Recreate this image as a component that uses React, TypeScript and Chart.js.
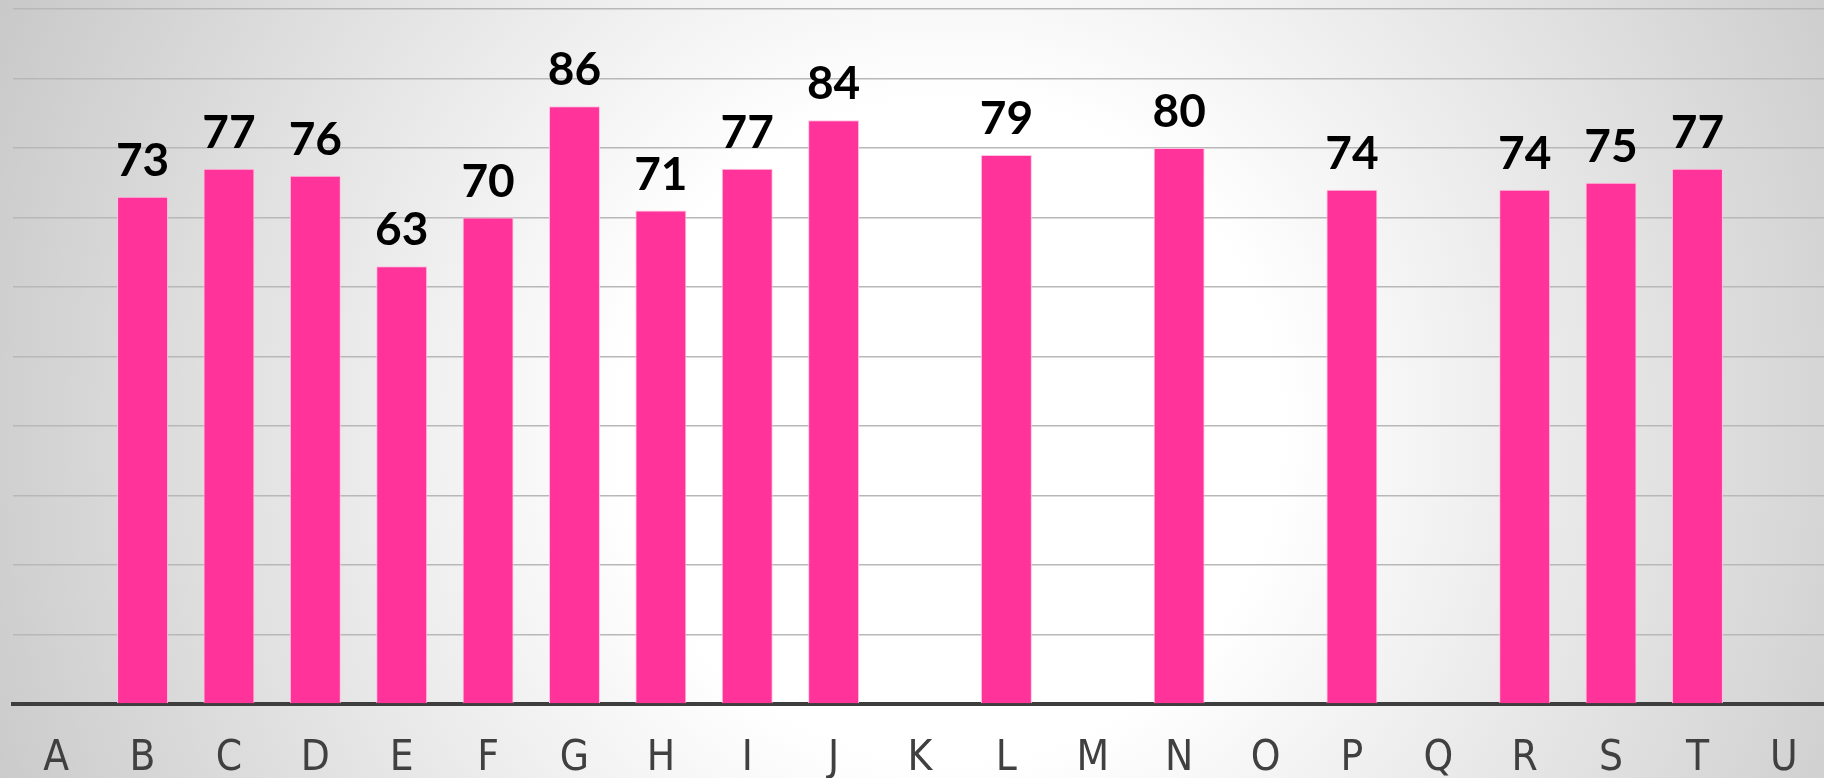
import React, { useEffect, useRef } from "react";
import { Chart, registerables } from "chart.js";

Chart.register(...registerables);

const categories = ["A","B","C","D","E","F","G","H","I","J","K","L","M","N","O","P","Q","R","S","T","U"];
const values: (number | null)[] = [null,73,77,76,63,70,86,71,77,84,null,79,null,80,null,74,null,74,75,77,null];
const yMin = 0;
const yMax = 100;
const yStep = 10;

const W = 1828;
const H = 778;

const valueLabels = {
  id: "valueLabels",
  afterDatasetsDraw(chart: any) {
    const ctx = chart.ctx;
    const meta = chart.getDatasetMeta(0);
    ctx.save();
    ctx.font = "bold 46px Lato, 'Open Sans', sans-serif";
    ctx.fillStyle = "#000000";
    ctx.textAlign = "center";
    ctx.textBaseline = "alphabetic";
    meta.data.forEach((bar: any, i: number) => {
      const v = values[i];
      if (v === null || v === undefined) return;
      ctx.fillText(String(v), bar.x, bar.y - 21);
    });
    ctx.restore();
  },
};

const categoryLabels = {
  id: "categoryLabels",
  afterDraw(chart: any) {
    const ctx = chart.ctx;
    const xs = chart.scales.x;
    ctx.save();
    ctx.font = "42px 'DejaVu Sans Condensed', 'DejaVu Sans', sans-serif";
    ctx.fillStyle = "#404040";
    ctx.textAlign = "center";
    ctx.textBaseline = "alphabetic";
    categories.forEach((c, i) => {
      ctx.fillText(c, xs.getPixelForTick(i), chart.chartArea.bottom + 66);
    });
    ctx.restore();
  },
};

export default function App() {
  const ref = useRef<HTMLCanvasElement>(null);
  useEffect(() => {
    document.body.style.margin = "0";
    const chart = new Chart(ref.current!, {
      type: "bar",
      data: {
        labels: categories,
        datasets: [
          {
            data: values,
            backgroundColor: "#FF3399",
            borderColor: "#ffc2e0",
            borderWidth: 1,
            barPercentage: 0.59,
            categoryPercentage: 1,
          },
        ],
      },
      options: {
        responsive: false,
        animation: false,
        devicePixelRatio: 1,
        layout: { padding: { left: 13, right: 1, top: 9, bottom: 74 } },
        plugins: { legend: { display: false }, tooltip: { enabled: false } },
        scales: {
          x: {
            grid: { display: false, drawTicks: false },
            border: { display: true, color: "#3e3e3e", width: 4 },
            ticks: { display: false },
          },
          y: {
            min: yMin,
            max: yMax,
            ticks: { display: false, stepSize: yStep },
            grid: { color: "#b8b8b8", lineWidth: 1.5, drawTicks: false },
            border: { display: false },
          },
        },
      },
      plugins: [valueLabels, categoryLabels],
    });
    return () => chart.destroy();
  }, []);
  return (
    <div
      style={{
        position: "absolute",
        left: 0,
        top: 0,
        width: 1824,
        height: 778,
        overflow: "hidden",
        background:
          "radial-gradient(circle at 950px 430px, #ffffff 0px, #ffffff 330px, #c8c8c8 1050px)",
      }}
    >
      <canvas ref={ref} width={W} height={H} style={{ display: "block" }} />
    </div>
  );
}
